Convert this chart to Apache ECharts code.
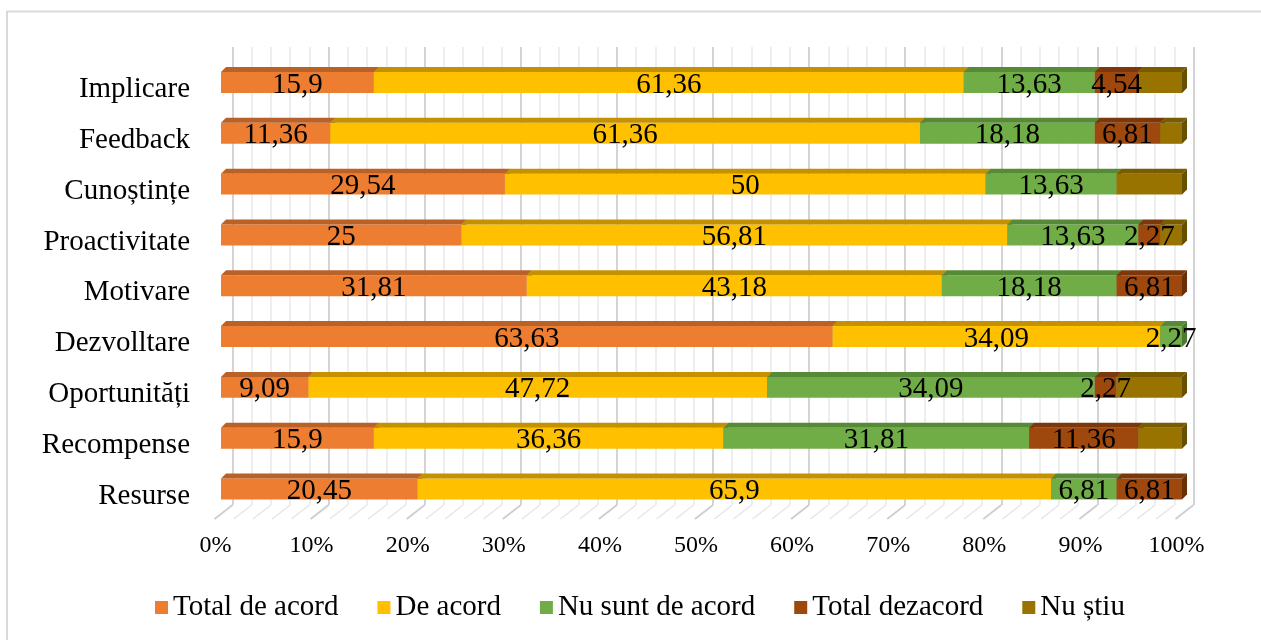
<!DOCTYPE html>
<html>
<head>
<meta charset="utf-8">
<script src="https://cdn.jsdelivr.net/npm/echarts@6/dist/echarts.min.js"></script>
<style>
  html, body { margin: 0; padding: 0; background: #fff; }
  #chart { width: 1261px; height: 640px; }
</style>
</head>
<body>
<div id="chart"></div>
<script>
// Survey answers per dimension (percent of respondents)
const categories = ['Implicare', 'Feedback', 'Cunoștințe', 'Proactivitate', 'Motivare', 'Dezvolltare', 'Oportunități', 'Recompense', 'Resurse'];
const seriesNames = ['Total de acord', 'De acord', 'Nu sunt de acord', 'Total dezacord', 'Nu știu'];
const totalDeAcord   = [15.9, 11.36, 29.54, 25, 31.81, 63.63, 9.09, 15.9, 20.45];
const deAcord        = [61.36, 61.36, 50, 56.81, 43.18, 34.09, 47.72, 36.36, 65.9];
const nuSuntDeAcord  = [13.63, 18.18, 13.63, 13.63, 18.18, 2.27, 34.09, 31.81, 6.81];
const totalDezacord  = [4.54, 6.81, 0, 2.27, 6.81, 0, 2.27, 11.36, 6.81];
const nuStiu         = [4.54, 2.27, 6.81, 2.27, 0, 0, 6.81, 4.54, 0];
const axisTicks      = [0, 10, 20, 30, 40, 50, 60, 70, 80, 90, 100];

const values = [totalDeAcord, deAcord, nuSuntDeAcord, totalDezacord, nuStiu];
const showValueLabel = [true, true, true, true, false];
// front, top and side shades of each series
const palette = [
  { front: '#ED7D31', top: '#BA6128', side: '#A4551F' },
  { front: '#FFC000', top: '#C49200', side: '#AD8100' },
  { front: '#70AD47', top: '#578A37', side: '#4C7A30' },
  { front: '#9E480E', top: '#7C380A', side: '#6B3008' },
  { front: '#997300', top: '#7A5C00', side: '#665000' }
];

const SERIF = '"Liberation Serif", "Times New Roman", serif';
const DEPTH = 5;      // 3D offset of bar top/side faces
const BAR_RATIO = 0.413;

// 100% stacking: each category normalised to its own total
const totals = categories.map((_, i) => values.reduce((s, arr) => s + arr[i], 0));
const stacked = values.map(() => []);
categories.forEach((_, i) => {
  let acc = 0;
  values.forEach((arr, k) => {
    const pct = arr[i] / totals[i] * 100;
    stacked[k].push([acc, acc + pct, i, arr[i]]);
    acc += pct;
  });
});

function fmt(v) { return String(v).replace('.', ','); }

function makeBarRenderer(k) {
  return function (params, api) {
    const s = api.value(0), e = api.value(1), ci = api.value(2), raw = api.value(3);
    if (!(e - s > 0)) return;
    const p0 = api.coord([s, ci]);
    const p1 = api.coord([e, ci]);
    const h = api.size([0, 1])[1] * BAR_RATIO;
    const x0 = p0[0], x1 = p1[0];
    const y0 = p0[1] - h / 2;
    const c = palette[k];
    const children = [
      { type: 'rect', shape: { x: x0, y: y0, width: x1 - x0, height: h }, style: { fill: c.front } },
      { type: 'polygon', shape: { points: [[x0, y0], [x0 + DEPTH, y0 - DEPTH], [x1 + DEPTH, y0 - DEPTH], [x1, y0]] }, style: { fill: c.top } },
      { type: 'polygon', shape: { points: [[x1, y0], [x1 + DEPTH, y0 - DEPTH], [x1 + DEPTH, y0 + h - DEPTH], [x1, y0 + h]] }, style: { fill: c.side } }
    ];
    if (showValueLabel[k] && raw > 0) {
      children.push({
        type: 'text', z2: 100,
        style: {
          x: (x0 + x1) / 2, y: p0[1] + 2.5,
          text: fmt(raw), fill: '#000',
          font: '29px ' + SERIF, align: 'center', verticalAlign: 'middle'
        }
      });
    }
    return { type: 'group', children };
  };
}

// diagonal floor lines under the back wall grid
function renderFloor(params, api) {
  const cs = params.coordSys;
  const yb = cs.y + cs.height;
  const lines = [];
  for (let v = 0; v <= 100; v += 2) {
    const x = api.coord([v, 0])[0];
    const major = v % 10 === 0;
    lines.push({
      type: 'line',
      shape: { x1: x, y1: yb, x2: x - 18, y2: yb + 14 },
      style: { stroke: major ? '#cfcfcf' : '#e6e6e6', lineWidth: major ? 2 : 1.5 }
    });
  }
  return { type: 'group', children: lines };
}

const chart = echarts.init(document.getElementById('chart'), null, { renderer: 'canvas' });

const barSeries = seriesNames.map((name, k) => ({
  type: 'custom',
  name,
  xAxisIndex: 1, yAxisIndex: 1,
  renderItem: makeBarRenderer(k),
  itemStyle: { color: palette[k].front },
  encode: { x: [0, 1], y: 2 },
  data: stacked[k],
  z: 3
}));

chart.setOption({
  animation: false,
  backgroundColor: '#fff',
  graphic: [{
    type: 'rect',
    shape: { x: 7, y: 11.5, width: 1400, height: 800 },
    style: { fill: 'none', stroke: '#d9d9d9', lineWidth: 2 },
    silent: true
  }],
  grid: [
    { left: 232.5, width: 961, top: 47, height: 458 },   // back wall
    { left: 221, width: 961, top: 57.1, height: 457.3 }, // bars
    { left: 215.5, width: 961, top: 100, bottom: 121 }    // tick labels
  ],
  xAxis: [
    {
      gridIndex: 0, type: 'value', min: 0, max: 100, interval: 10,
      axisLine: { show: false }, axisTick: { show: false }, axisLabel: { show: false },
      splitLine: { show: true, lineStyle: { color: '#d4d4d4', width: 2 } },
      minorTick: { show: false, splitNumber: 5 },
      minorSplitLine: { show: true, lineStyle: { color: '#e9e9e9', width: 1.5 } }
    },
    {
      gridIndex: 1, type: 'value', min: 0, max: 100,
      axisLine: { show: false }, axisTick: { show: false }, axisLabel: { show: false }, splitLine: { show: false }
    },
    {
      gridIndex: 2, type: 'category', data: axisTicks.map(t => t + '%'), boundaryGap: false,
      axisLine: { show: false }, axisTick: { show: false }, splitLine: { show: false },
      axisLabel: { show: true, interval: 0, margin: 15, fontSize: 24, fontFamily: SERIF, color: '#000' }
    }
  ],
  yAxis: [
    { gridIndex: 0, type: 'value', min: 0, max: 1, show: false },
    {
      gridIndex: 1, type: 'category', data: categories, inverse: true,
      axisLine: { show: false }, axisTick: { show: false }, splitLine: { show: false },
      axisLabel: {
        margin: 31, fontSize: 29, fontFamily: SERIF, color: '#000',
        verticalAlign: 'top', lineHeight: 14
      }
    },
    { gridIndex: 2, type: 'value', show: false }
  ],
  legend: {
    left: 150, top: 588,
    icon: 'rect', itemWidth: 13, itemHeight: 13, itemGap: 39,
    textStyle: { fontSize: 29, fontFamily: SERIF, color: '#000' },
    data: seriesNames
  },
  series: [
    {
      type: 'custom', name: 'floor', xAxisIndex: 0, yAxisIndex: 0,
      renderItem: renderFloor, data: [[0, 0]], silent: true, z: 1
    },
    ...barSeries
  ]
});
</script>
</body>
</html>
